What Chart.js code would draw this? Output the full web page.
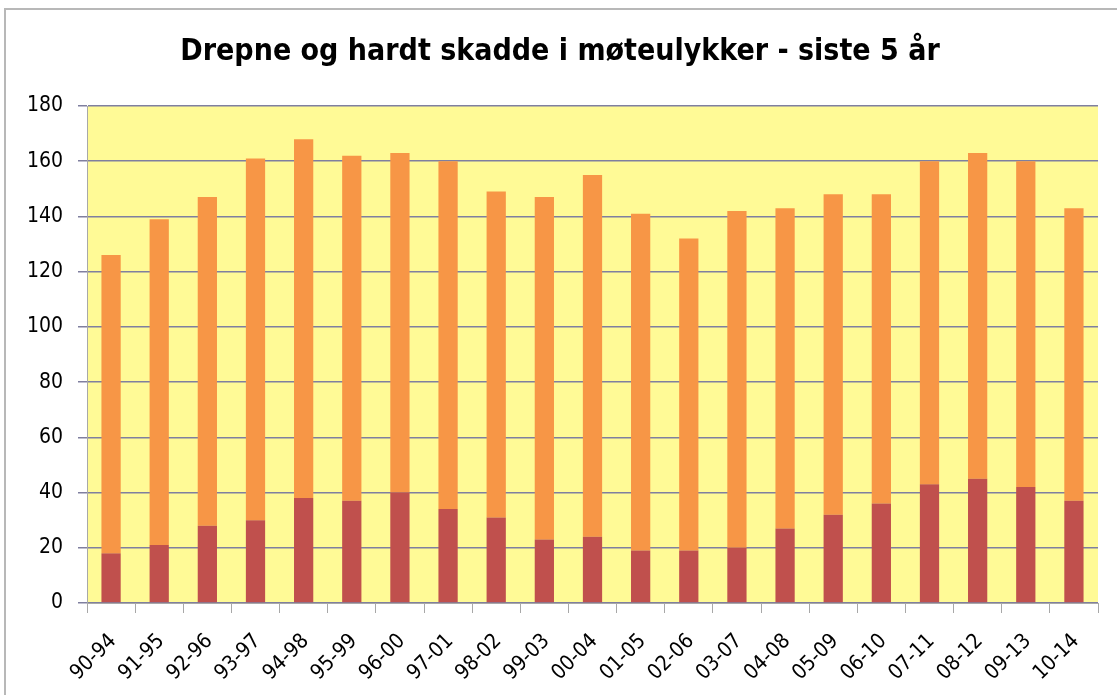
<!DOCTYPE html>
<html>
<head>
<meta charset="utf-8">
<script src="https://cdn.jsdelivr.net/npm/chart.js@4"></script>
<style>
  html, body { margin: 0; padding: 0; background: #fff; }
  #wrap { position: absolute; left: 0; top: 0; width: 1117px; height: 695px; }
</style>
</head>
<body>
<div id="wrap"><canvas id="grafico" width="1117" height="695"></canvas></div>
<script>
// perioder (5-års vindu)
const perioder = ['90-94', '91-95', '92-96', '93-97', '94-98', '95-99', '96-00', '97-01', '98-02', '99-03',
  '00-04', '01-05', '02-06', '03-07', '04-08', '05-09', '06-10', '07-11', '08-12', '09-13', '10-14'];

// drepne (nederste del)
const drepne = [18, 21, 28, 30, 38, 37, 40, 34, 31, 23, 24, 19, 19, 20, 27, 32, 36, 43, 45, 42, 37];

// hardt skadde (oppå)
const hardtSkadde = [108, 118, 119, 131, 130, 125, 123, 126, 118, 124, 131, 122, 113, 122, 116, 116, 112, 117, 118, 118, 106];

const yTicks = [0, 20, 40, 60, 80, 100, 120, 140, 160, 180];

// bakgrunn i plottområdet + ramme rundt hele diagrammet
const bakgrunn = {
  id: 'bakgrunn',
  beforeDraw(chart) {
    const ctx = chart.ctx;
    const a = chart.chartArea;
    ctx.save();
    ctx.strokeStyle = '#b8b8b8';
    ctx.lineWidth = 2;
    ctx.strokeRect(5, 9, 1120, 700);
    ctx.fillStyle = '#fffa96';
    ctx.fillRect(a.left, a.top, a.right - a.left, a.bottom - a.top);
    ctx.restore();
  }
};

const ctx = document.getElementById('grafico').getContext('2d');

new Chart(ctx, {
  type: 'bar',
  data: {
    labels: perioder,
    datasets: [
      {
        label: 'Drepne',
        data: drepne,
        backgroundColor: '#c0504d',
        barPercentage: 0.4,
        categoryPercentage: 1.0,
      },
      {
        label: 'Hardt skadde',
        data: hardtSkadde,
        backgroundColor: '#f79646',
        barPercentage: 0.4,
        categoryPercentage: 1.0,
      },
    ],
  },
  options: {
    responsive: false,
    animation: false,
    layout: { padding: { left: 22, right: 19, top: 0, bottom: 0 } },
    plugins: {
      legend: { display: false },
      tooltip: { enabled: false },
      title: {
        display: true,
        text: 'Drepne og hardt skadde i møteulykker - siste 5 år',
        color: '#000',
        font: { family: 'DejaVu Sans Condensed', size: 30, weight: 'bold', lineHeight: 1.2 },
        padding: { top: 34, bottom: 36 },
      },
    },
    scales: {
      x: {
        stacked: true,
        afterFit(scale) { scale.height = 92; },
        grid: {
          display: true,
          drawOnChartArea: false,
          drawTicks: true,
          tickLength: 10,
          color: '#a8a8a8',
          offset: true,
        },
        border: { color: '#a8a8a8', width: 1 },
        ticks: {
          color: '#000',
          font: { family: 'DejaVu Sans Condensed', size: 21 },
          minRotation: 45,
          maxRotation: 45,
          padding: 16,
          labelOffset: 2,
        },
      },
      y: {
        stacked: true,
        min: 0,
        max: 180,
        afterFit(scale) { scale.width = 65; },
        afterBuildTicks(axis) {
          axis.ticks = yTicks.map(v => ({ value: v }));
        },
        grid: {
          color: '#7f7f9f',
          lineWidth: 1.5,
          tickLength: 9,
        },
        border: { color: '#a8a8a8', width: 1 },
        ticks: {
          color: '#000',
          font: { family: 'DejaVu Sans Condensed', size: 21 },
          padding: 15,
        },
      },
    },
  },
  plugins: [bakgrunn],
});
</script>
</body>
</html>
